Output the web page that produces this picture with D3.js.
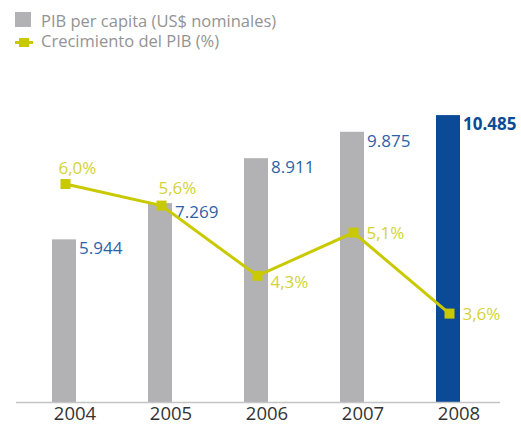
<!DOCTYPE html>
<html>
<head>
<meta charset="utf-8">
<script src="https://cdn.jsdelivr.net/npm/d3@7"></script>
<style>
  body { margin: 0; background: #fff; }
  text { font-family: "Open Sans", sans-serif; }
</style>
</head>
<body>
<div id="chart"></div>
<script>
// data
const years = ["2004", "2005", "2006", "2007", "2008"];
const gdpPerCapita = [5944, 7269, 8911, 9875, 10485];
const gdpGrowth = [6.0, 5.6, 4.3, 5.1, 3.6];
const gdpLabels = ["5.944", "7.269", "8.911", "9.875", "10.485"];
const growthLabels = ["6,0%", "5,6%", "4,3%", "5,1%", "3,6%"];
const growthLabelSide = ["above", "above", "right", "right", "right"];

const width = 521, height = 433;
const baseY = 402;

const svg = d3.select("#chart")
  .append("svg")
  .attr("width", width)
  .attr("height", height);

// scales
const x = d3.scaleBand()
  .domain(years)
  .range([27, 507]);

const yBar = d3.scaleLinear()
  .domain([0, 11000])
  .range([baseY, 101]);

const yLine = d3.scaleLinear()
  .domain([3, 6.5])
  .range([346, 157]);

const barW = 24;
const barX = d => x(d) + x.bandwidth() / 2 - 23;
const markX = d => barX(d) + barW / 2 + 1.5;

// bars
svg.selectAll("rect.bar")
  .data(years)
  .enter().append("rect")
  .attr("class", "bar")
  .attr("x", d => barX(d))
  .attr("y", (d, i) => yBar(gdpPerCapita[i]))
  .attr("width", barW)
  .attr("height", (d, i) => baseY - yBar(gdpPerCapita[i]))
  .attr("fill", (d, i) => i === years.length - 1 ? "#0b4a97" : "#b2b2b4");

// bar values
svg.selectAll("text.val")
  .data(years)
  .enter().append("text")
  .attr("class", "val")
  .attr("x", d => barX(d) + barW + 3)
  .attr("y", (d, i) => yBar(gdpPerCapita[i]) + 15)
  .attr("font-size", "17px")
  .attr("font-weight", (d, i) => i === years.length - 1 ? "bold" : "normal")
  .attr("fill", (d, i) => i === years.length - 1 ? "#0b4a97" : "#2e62a8")
  .text((d, i) => gdpLabels[i]);

// axis
const xAxis = svg.append("g")
  .attr("transform", `translate(0,${baseY})`)
  .call(d3.axisBottom(x).tickSize(0));
xAxis.select(".domain").remove();
xAxis.selectAll("text")
  .attr("y", 18)
  .attr("dy", 0)
  .attr("font-family", "Open Sans, sans-serif")
  .attr("font-size", "18.5px")
  .attr("fill", "#333");

svg.append("line")
  .attr("x1", 16).attr("x2", 500)
  .attr("y1", baseY + 0.5).attr("y2", baseY + 0.5)
  .attr("stroke", "#c4c4c4")
  .attr("stroke-width", 1.5);

// growth line
const line = d3.line()
  .x((d, i) => markX(years[i]))
  .y(d => yLine(d));

svg.append("path")
  .datum(gdpGrowth)
  .attr("d", line)
  .attr("fill", "none")
  .attr("stroke", "#c9c900")
  .attr("stroke-width", 3);

svg.selectAll("rect.mark")
  .data(gdpGrowth)
  .enter().append("rect")
  .attr("class", "mark")
  .attr("x", (d, i) => markX(years[i]) - 5)
  .attr("y", d => yLine(d) - 5)
  .attr("width", 10)
  .attr("height", 10)
  .attr("fill", "#c9c900");

svg.selectAll("text.pct")
  .data(gdpGrowth)
  .enter().append("text")
  .attr("class", "pct")
  .attr("x", (d, i) => markX(years[i]) + (growthLabelSide[i] === "above" ? (i === 0 ? -7 : -3) : 13))
  .attr("y", (d, i) => yLine(d) + (growthLabelSide[i] === "above" ? (i === 0 ? -10 : -12) : (i === 2 ? 12 : 6)))
  .attr("font-size", "17px")
  .attr("fill", "#d3d336")
  .text((d, i) => growthLabels[i]);

// legend
const legend = svg.append("g");

legend.append("rect")
  .attr("x", 15).attr("y", 12)
  .attr("width", 16).attr("height", 15)
  .attr("fill", "#b2b2b4");
legend.append("text")
  .attr("x", 41).attr("y", 27)
  .attr("font-size", "16.5px")
  .attr("fill", "#939393")
  .text("PIB per capita (US$ nominales)");

legend.append("line")
  .attr("x1", 15).attr("x2", 33)
  .attr("y1", 42.5).attr("y2", 42.5)
  .attr("stroke", "#c9c900")
  .attr("stroke-width", 3);
legend.append("rect")
  .attr("x", 19).attr("y", 38)
  .attr("width", 10).attr("height", 9)
  .attr("fill", "#c9c900");
legend.append("text")
  .attr("x", 41).attr("y", 47)
  .attr("font-size", "16.5px")
  .attr("fill", "#939393")
  .text("Crecimiento del PIB (%)");
</script>
</body>
</html>
